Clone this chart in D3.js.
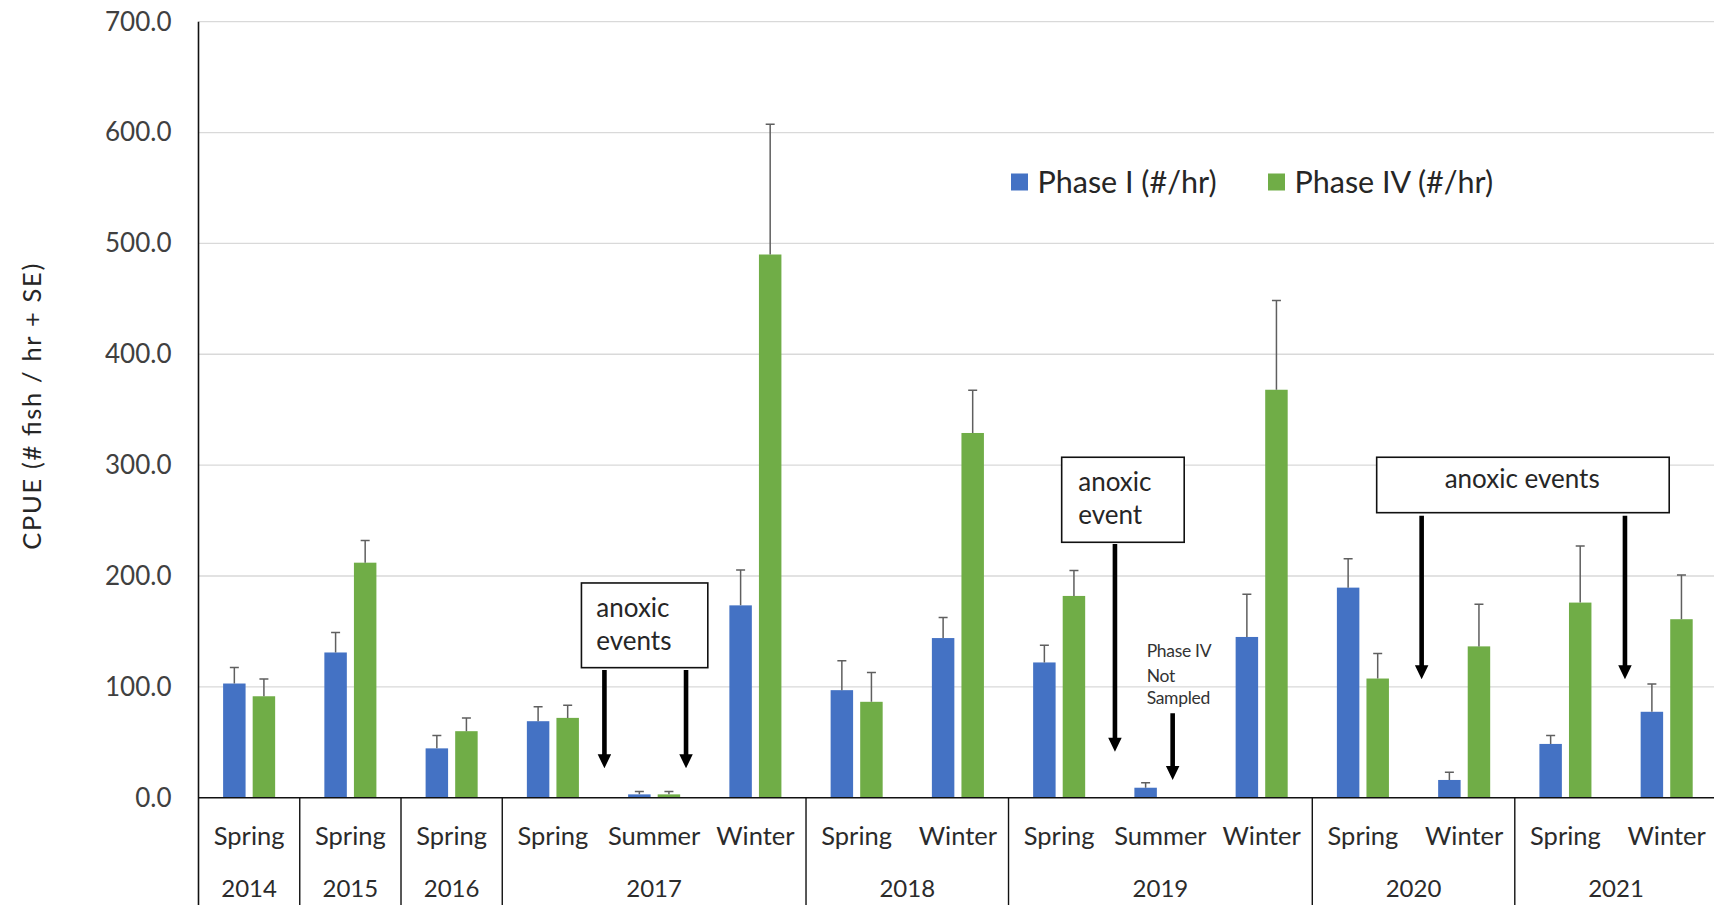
<!DOCTYPE html>
<html>
<head>
<meta charset="utf-8">
<script src="https://cdn.jsdelivr.net/npm/d3@7"></script>
<style>
  html, body { margin: 0; padding: 0; background: #ffffff; }
  svg { display: block; }
  text { font-family: Lato, "Noto Sans", sans-serif; }
</style>
</head>
<body>
<svg id="chart" width="1714" height="905"></svg>
<script>
// Sampling periods (season + year), in order along the x axis
const seasons = ["Spring","Spring","Spring","Spring","Summer","Winter","Spring","Winter",
                 "Spring","Summer","Winter","Spring","Winter","Spring","Winter"];
const years   = ["2014","2015","2016","2017","2017","2017","2018","2018",
                 "2019","2019","2019","2020","2020","2021","2021"];

// CPUE (# fish / hr) and standard error for each phase
const phaseI     = [103, 131, 44.5, 69, 3, 173.5, 97, 144, 122, 9, 145, 189.5, 16, 48.5, 77.5];
const phaseISE   = [14.5, 18, 11.5, 13, 2.5, 32, 26.5, 18.5, 15.5, 4.5, 38.5, 26, 7, 7.5, 25];
const phaseIV    = [91.5, 212, 60, 72, 3, 490, 86.5, 329, 182, null, 368, 107.5, 136.5, 176, 161];
const phaseIVSE  = [15.5, 20, 12, 11.5, 2.5, 117.5, 26.5, 38.5, 23, null, 80.5, 22.5, 38, 51, 40];

const seriesNames = ["Phase I (#/hr)", "Phase IV (#/hr)"];
const seriesColors = ["#4472C4", "#70AD47"];
const yTicks = [0, 100, 200, 300, 400, 500, 600, 700];

const svg = d3.select("#chart");
const W = 1714, H = 905;

const plotLeft = 198.5, plotRight = 1717.3, plotTop = 21.7, plotBottom = 797.7;

const idx = d3.range(seasons.length);
const x = d3.scaleBand().domain(idx).range([plotLeft, plotRight]).padding(0);
const bw = x.bandwidth();
const x1 = d3.scaleBand().domain([0, 1]).range([bw * 0.243, bw * 0.757]).paddingInner(0.24);
const y = d3.scaleLinear().domain([0, 700]).range([plotBottom, plotTop]);

// position helper for annotations expressed in category units
const cx = c => plotLeft + c * x.step();

// gridlines
svg.append("g").selectAll("line").data(yTicks.filter(d => d > 0)).join("line")
  .attr("x1", plotLeft).attr("x2", W)
  .attr("y1", d => y(d)).attr("y2", d => y(d))
  .attr("stroke", "#d9d9d9").attr("stroke-width", 1.3);

// y axis tick labels
const yAxis = d3.axisLeft(y).tickValues(yTicks).tickFormat(d => d.toFixed(1)).tickSize(0).tickPadding(27);
const gy = svg.append("g").attr("transform", `translate(${plotLeft},0)`).call(yAxis);
gy.select(".domain").remove();
gy.selectAll("text").attr("font-size", 26).attr("fill", "#404040")
  .attr("font-family", "Lato, 'Noto Sans', sans-serif");

// y axis title
svg.append("text")
  .attr("transform", "translate(41,406.7) rotate(-90)")
  .attr("text-anchor", "middle")
  .attr("font-size", 25.5).attr("fill", "#262626")
  .attr("textLength", 286).attr("lengthAdjust", "spacing")
  .text("CPUE (# fish / hr + SE)");

// bars
const rows = idx.map(i => ({
  i,
  vals: [
    { s: 0, v: phaseI[i], se: phaseISE[i] },
    { s: 1, v: phaseIV[i], se: phaseIVSE[i] }
  ].filter(d => d.v != null)
}));

const groups = svg.append("g").selectAll("g").data(rows).join("g")
  .attr("transform", d => `translate(${x(d.i)},0)`);

groups.selectAll("rect").data(d => d.vals).join("rect")
  .attr("x", d => x1(d.s)).attr("width", x1.bandwidth())
  .attr("y", d => y(d.v)).attr("height", d => y(0) - y(d.v))
  .attr("fill", d => seriesColors[d.s]);

// error bars (positive only)
const cap = 9;
groups.selectAll("path.err").data(d => d.vals).join("path")
  .attr("class", "err")
  .attr("d", d => {
    const xm = x1(d.s) + x1.bandwidth() / 2;
    const y0 = y(d.v), y1 = y(d.v + d.se);
    return `M${xm},${y0}V${y1}M${xm - cap / 2},${y1}H${xm + cap / 2}`;
  })
  .attr("fill", "none").attr("stroke", "#5f5f5f").attr("stroke-width", 1.5);

// axes lines
svg.append("line").attr("x1", plotLeft).attr("x2", plotLeft).attr("y1", plotTop).attr("y2", H)
  .attr("stroke", "#111").attr("stroke-width", 1.6);
svg.append("line").attr("x1", plotLeft).attr("x2", W).attr("y1", plotBottom).attr("y2", plotBottom)
  .attr("stroke", "#111").attr("stroke-width", 1.6);

// year separators
const yearGroups = [];
idx.forEach(i => {
  const last = yearGroups[yearGroups.length - 1];
  if (last && last.year === years[i]) last.end = i;
  else yearGroups.push({ year: years[i], start: i, end: i });
});
svg.append("g").selectAll("line").data(yearGroups.slice(1)).join("line")
  .attr("x1", d => x(d.start)).attr("x2", d => x(d.start))
  .attr("y1", plotBottom).attr("y2", H)
  .attr("stroke", "#111").attr("stroke-width", 1.4);

// season labels
svg.append("g").selectAll("text").data(idx).join("text")
  .attr("x", i => x(i) + bw / 2).attr("y", 845)
  .attr("text-anchor", "middle").attr("font-size", 25.5).attr("fill", "#2b2b2b")
  .text(i => seasons[i]);

// year labels
svg.append("g").selectAll("text").data(yearGroups).join("text")
  .attr("x", d => (x(d.start) + x(d.end) + bw) / 2).attr("y", 897)
  .attr("text-anchor", "middle").attr("font-size", 24).attr("fill", "#2b2b2b")
  .text(d => d.year);

// legend
const legend = svg.append("g");
const legendItems = [{ x: 1011, s: 0 }, { x: 1268, s: 1 }];
legendItems.forEach(it => {
  legend.append("rect").attr("x", it.x).attr("y", 173.5).attr("width", 17).attr("height", 17)
    .attr("fill", seriesColors[it.s]);
  legend.append("text").attr("x", it.x + 26.5).attr("y", 193)
    .attr("font-size", 30.5).attr("fill", "#262626").text(seriesNames[it.s]);
});

// annotations: boxes, notes and arrows (category units / data values)
const boxes = [
  { c0: 3.782, c1: 5.030, v0: 193.7, v1: 117.3,
    lines: [{ c: 3.929, v: 163.3, t: "anoxic" }, { c: 3.929, v: 133.2, t: "events" }], anchor: "start" },
  { c0: 8.525, c1: 9.735, v0: 307.1, v1: 230.4,
    lines: [{ c: 8.689, v: 276.9, t: "anoxic" }, { c: 8.689, v: 246.9, t: "event" }], anchor: "start" },
  { c0: 11.636, c1: 14.525, v0: 307.1, v1: 257.1,
    lines: [{ c: 13.073, v: 279.1, t: "anoxic events" }], anchor: "middle" }
];
const ann = svg.append("g");
boxes.forEach(b => {
  ann.append("rect")
    .attr("x", cx(b.c0)).attr("y", y(b.v0))
    .attr("width", cx(b.c1) - cx(b.c0)).attr("height", y(b.v1) - y(b.v0))
    .attr("fill", "#fff").attr("stroke", "#111").attr("stroke-width", 1.6);
  b.lines.forEach(l => {
    ann.append("text").attr("x", cx(l.c)).attr("y", y(l.v))
      .attr("text-anchor", b.anchor).attr("font-size", 26).attr("fill", "#262626").text(l.t);
  });
});

const notes = [
  { c: 9.364, v: 126.6, t: "Phase IV" },
  { c: 9.364, v: 104.6, t: "Not" },
  { c: 9.364, v: 84.5, t: "Sampled" }
];
ann.selectAll("text.note").data(notes).join("text").attr("class", "note")
  .attr("x", d => cx(d.c)).attr("y", d => y(d.v))
  .attr("font-size", 17.5).attr("fill", "#333").attr("letter-spacing", -0.3).text(d => d.t);

const arrows = [
  { c: 4.009, v0: 115.2, v1: 26.5 },
  { c: 4.815, v0: 115.2, v1: 26.5 },
  { c: 9.051, v0: 228.9, v1: 41.5 },
  { c: 9.621, v0: 76.1, v1: 16 },
  { c: 12.080, v0: 254.4, v1: 106.8 },
  { c: 14.088, v0: 254.4, v1: 106.8 }
];
const headL = 14, headW = 13.5, shaft = 4.6;
ann.selectAll("path.arrow").data(arrows).join("path").attr("class", "arrow")
  .attr("d", d => {
    const xm = cx(d.c), ya = y(d.v0), yb = y(d.v1);
    return `M${xm - shaft / 2},${ya}H${xm + shaft / 2}V${yb - headL}H${xm + headW / 2}` +
           `L${xm},${yb}L${xm - headW / 2},${yb - headL}H${xm - shaft / 2}Z`;
  })
  .attr("fill", "#000");
</script>
</body>
</html>
